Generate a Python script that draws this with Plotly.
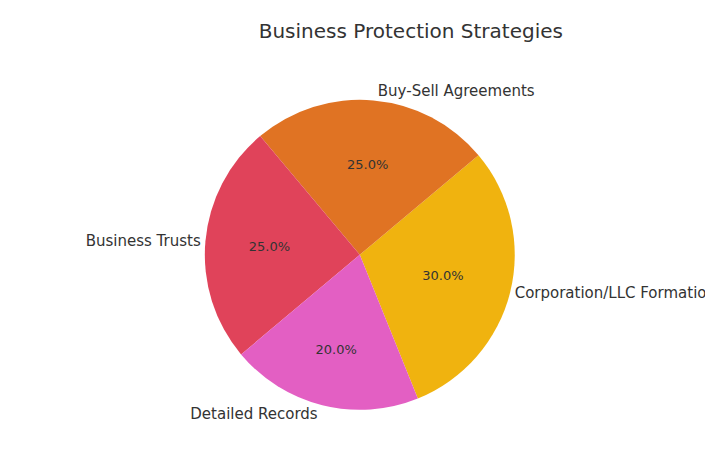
import plotly.graph_objects as go

labels = ["Corporation/LLC Formation", "Buy-Sell Agreements", "Business Trusts", "Detailed Records"]
values = [30, 25, 25, 20]
colors = ["#F0B30F", "#E07323", "#E0435A", "#E35FC3"]

dom = dict(x=[221/713, 569/713], y=[31/454, 379/454])
fig = go.Figure()
fig.add_trace(go.Pie(
    labels=labels, values=values, sort=False, direction="counterclockwise", rotation=50,
    marker=dict(colors=colors), texttemplate="%{percent:.1%}", textposition="inside",
    insidetextorientation="horizontal", textfont=dict(size=13, color="#333333"),
    hoverinfo="label+percent", showlegend=False, domain=dom,
))
fig.add_trace(go.Pie(
    labels=labels, values=values, sort=False, direction="counterclockwise", rotation=50,
    marker=dict(colors=["rgba(0,0,0,0)"]*4), texttemplate="%{label}", textposition="outside",
    textfont=dict(size=15, color="#333333"), hoverinfo="skip", showlegend=False, domain=dom,
))
fig.update_layout(
    width=713, height=454, margin=dict(l=0, r=0, t=0, b=0),
    paper_bgcolor="white", font=dict(family="DejaVu Sans", color="#333333"),
    title=dict(text="Business Protection Strategies", x=0.565, xanchor="center", y=0.95, yanchor="middle",
               font=dict(size=20, color="#333333")),
)
fig.write_html("out.html")
